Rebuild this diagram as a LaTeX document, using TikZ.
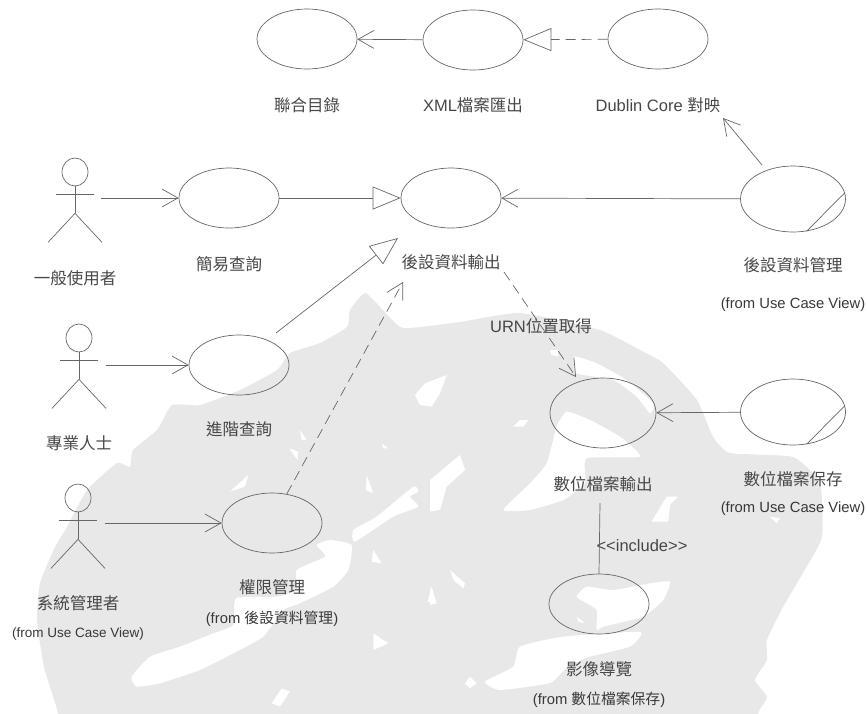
\documentclass[tikz,border=0pt]{standalone}
\usepackage{fontspec}
\setmainfont{Liberation Sans}
\newfontfamily\cjk{Noto Sans CJK TC}
\usetikzlibrary{shapes.geometric,arrows.meta,calc}
\newcommand{\zh}[1]{{\cjk #1}}
% stick figure: name, x, y of the head
\newcommand{\actor}[3]{
    \node (#1) [head] at (#2,#3) {};
    \draw [stick] (#1.south) -- ++(0,27) coordinate (#1hip);
    \draw [stick] ($(#1)+(-19,22)$) -- ++(38,0);
    \draw [stick] ($(#1hip)+(-27,29)$) -- (#1hip) -- ++(27,29);
}

\begin{document}
\begin{tikzpicture}[x=1pt,y=-1pt,node distance=65pt]
    \tikzstyle{usecase} = [ellipse, minimum width=100pt, minimum height=60pt, inner sep=0pt, draw=black!60, line width=0.7pt]
    \tikzstyle{head} = [ellipse, minimum width=26pt, minimum height=28pt, inner sep=0pt, draw=black!60, line width=0.7pt]
    \tikzstyle{stick} = [draw=black!60, line width=0.7pt]
    \tikzstyle{lbl} = [text=black!72, inner sep=0pt, font=\fontsize{16.5}{18}\selectfont]
    \tikzstyle{lblfrom} = [text=black!78, inner sep=0pt, font=\fontsize{14.8}{17}\selectfont]
    \tikzstyle{arrow} = [draw=black!60, line width=0.7pt, -{Straight Barb[length=16pt,width=18pt]}]
    \tikzstyle{dasharrow} = [arrow, dash pattern=on 10pt off 6pt]
    \tikzstyle{gen} = [draw=black!60, line width=0.7pt, -{Triangle[open,length=28pt,width=23pt]}]
    \tikzstyle{dashgen} = [gen, dash pattern=on 10pt off 6pt]
    \tikzstyle{wmark} = [fill=black!9, draw=none]
    \tikzstyle{wgap} = [fill=white, draw=none]

    \useasboundingbox (0,0) rectangle (867,713);

    % Watermark
    \fill [wmark] plot [smooth cycle, tension=0.3] coordinates {(58,713) (44,667) (37,620) (40,583) (55,547) (67,527) (87,490) (117,463) (130,467) (133,450) (157,430) (172,405) (200,405) (240,390) (277,370) (290,353) (320,343) (347,327) (350,310) (365,293) (383,310) (403,328) (460,322) (520,313) (600,330) (640,350) (663,363) (697,400) (713,437) (730,453) (793,457) (820,483) (822,537) (803,573) (783,607) (767,640) (767,660) (755,680) (767,697) (758,713) (758,735) (58,735)};
    \begin{scope}[x=0.3333pt,y=-0.3333pt,yshift=-300pt]
        \fill [wgap] plot [smooth cycle, tension=0.3] coordinates {(395,1130) (450,1070) (540,1040) (640,1000) (700,975) (708,895) (830,890) (890,870) (890,810) (975,770) (950,735) (990,720) (1055,735) (1045,810) (1000,860) (900,910) (850,930) (790,1010) (700,1060) (600,1110) (480,1150) (410,1160)};
        \fill [wgap] plot [smooth cycle, tension=0.3] coordinates {(1060,690) (1130,650) (1240,560) (1255,575) (1230,590) (1255,620) (1180,650) (1065,725)};
        \fill [wgap] (900,390) -- (920,420) -- (905,420) -- cycle;
        \fill [wgap] (868,445) -- (895,455) -- (892,480) -- cycle;
        \fill [wgap] (690,575) -- (745,525) -- (735,560) -- cycle;
        \fill [wgap] (1100,525) -- (1120,580) -- (1098,570) -- cycle;
        \fill [wgap] (1145,430) -- (1165,445) -- (1150,445) -- cycle;
        \fill [wgap] (1120,750) -- (1145,790) -- (1115,785) -- cycle;
        \fill [wgap] (1295,860) -- (1310,910) -- (1283,905) -- cycle;
        \fill [wgap] (1120,1000) -- (1165,1030) -- (1120,1050) -- cycle;
        \fill [wgap] (815,1210) -- (845,1165) -- (870,1175) -- (840,1220) -- cycle;
        \fill [wgap] (1245,285) -- (1275,250) -- (1340,225) -- (1320,280) -- (1295,320) -- (1260,315) -- cycle;
    \end{scope}
    \begin{scope}[x=0.3333pt,y=-0.3333pt,xshift=430pt,yshift=-340pt]
        \fill [wgap] plot [smooth cycle, tension=0.3] coordinates {(220,510) (300,430) (350,370) (380,260) (410,215) (480,240) (570,290) (630,350) (470,355) (465,430) (400,480) (300,510)};
        \fill [wgap] plot [smooth cycle, tension=0.3] coordinates {(435,50) (500,70) (590,120) (670,190) (660,220) (620,170) (550,120) (440,100)};
        \fill [wgap] (360,30) -- (385,30) -- (385,50) -- (365,45) -- cycle;
        \fill [wgap] (250,260) -- (270,240) -- (295,240) -- (280,260) -- cycle;
        \fill [wgap] (0,420) -- (90,345) -- (105,390) -- (50,440) -- (30,510) -- (0,515) -- cycle;
        \fill [wgap] (665,545) -- (710,470) -- (745,470) -- (720,495) -- (715,545) -- cycle;
        \fill [wgap] (1020,530) -- (1050,535) -- (1040,550) -- cycle;
        \fill [wgap] (60,690) -- (105,730) -- (100,745) -- (70,720) -- cycle;
        \fill [wgap] (0,745) -- (20,790) -- (0,795) -- cycle;
        \fill [wgap] plot [smooth cycle, tension=0.3] coordinates {(440,770) (470,740) (550,750) (660,730) (720,725) (700,780) (640,830) (520,860) (500,870) (500,810) (470,790)};
        \fill [wgap] (440,830) -- (465,850) -- (445,845) -- cycle;
        \fill [wgap] plot [smooth cycle, tension=0.3] coordinates {(165,1025) (250,980) (270,920) (400,890) (630,876) (600,920) (480,950) (411,981) (360,1029) (210,1050)};
        \fill [wgap] (105,1030) -- (120,1010) -- (140,1030) -- (120,1045) -- cycle;
    \end{scope}

    % Use cases
    \node (union) [usecase] at (307,39) {};
    \node (xml) [usecase] at (473,40) {};
    \node (dublin) [usecase] at (658,39) {};
    \node (simple) [usecase] at (229,198) {};
    \node (output) [usecase] at (451,198) {};
    \node (manage) [usecase, minimum width=105pt, minimum height=66pt] at (793,199) {};
    \node (advanced) [usecase] at (239,365) {};
    \node (perm) [usecase] at (272,523) {};
    \node (fileout) [usecase, minimum width=106pt, minimum height=70pt] at (603,413) {};
    \node (filesave) [usecase, minimum width=105pt, minimum height=66pt] at (793,412) {};
    \node (imageview) [usecase] at (599,604) {};

    % Actors
    \actor{user}{75}{172}
    \actor{expert}{79}{338}
    \actor{admin}{78}{498}

    % Labels
    \node (lunion) [lbl, below of=union, node distance=66pt] {\zh{聯合目錄}};
    \node (lxml) [lbl, below of=xml] {XML\zh{檔案匯出}};
    \node (ldublin) [lbl, below of=dublin, node distance=66pt] {Dublin Core \zh{對映}};
    \node (lsimple) [lbl, below of=simple, node distance=66pt] {\zh{簡易查詢}};
    \node (loutput) [lbl, below of=output, node distance=64pt] {\zh{後設資料輸出}};
    \node (lmanage) [lbl, below of=manage, node distance=66pt] {\zh{後設資料管理}};
    \node (fmanage) [lblfrom, below of=lmanage, node distance=40pt] {(from Use Case View)};
    \node (ladvanced) [lbl, below of=advanced, node distance=64pt] {\zh{進階查詢}};
    \node (lperm) [lbl, below of=perm, node distance=64pt] {\zh{權限管理}};
    \node (fperm) [lblfrom, below of=lperm, node distance=32pt] {(from \zh{後設資料管理})};
    \node (lfileout) [lbl, below of=fileout, node distance=71pt] {\zh{數位檔案輸出}};
    \node (lfilesave) [lbl, below of=filesave, node distance=67pt] {\zh{數位檔案保存}};
    \node (ffilesave) [lblfrom, below of=lfilesave, node distance=30pt] {(from Use Case View)};
    \node (limage) [lbl, below of=imageview] {\zh{影像導覽}};
    \node (fimage) [lblfrom, below of=limage, node distance=31pt] {(from \zh{數位檔案保存})};
    \node (luser) [lbl, below of=user, node distance=106pt] {\zh{一般使用者}};
    \node (lexpert) [lbl, below of=expert, node distance=105pt] {\zh{專業人士}};
    \node (ladmin) [lbl, below of=admin, node distance=105pt] {\zh{系統管理者}};
    \node (fadmin) [lblfrom, below of=ladmin, font=\fontsize{13.5}{16}\selectfont, node distance=31pt] {(from Use Case View)};
    \node (urn) [lbl] at (541,326) {URN\zh{位置取得}};
    \node (incl) [lbl] at (642,546) {<{}<include>{}>};

    % Free ends
    \coordinate (auser) at (101,198);
    \coordinate (aexpert) at (105.5,365);
    \coordinate (aadmin) at (105,523);
    \coordinate (advfrom) at (276,333);
    \coordinate (advto) at (398,238);
    \coordinate (permto) at (403,282);
    \coordinate (urnfrom) at (504,272);
    \coordinate (urnto) at (576,377);
    \coordinate (manfrom) at (762,165);
    \coordinate (manto) at (723,118);
    \coordinate (inclfrom) at (600,503);

    % Arrows
    \draw [arrow] (auser) -- (simple);
    \draw [arrow] (aexpert) -- (advanced);
    \draw [arrow] (aadmin) -- (perm);
    \draw [arrow] (xml) -- (union);
    \draw [dashgen] (dublin) -- (xml);
    \draw [gen] (simple) -- (output);
    \draw [gen] (advfrom) -- (advto);
    \draw [dasharrow] (perm.63) -- (permto);
    \draw [arrow] (manage) -- (output);
    \draw [arrow] (manfrom) -- (manto);
    \draw [dasharrow] (urnfrom) -- (urnto);
    \draw [arrow] (filesave) -- (fileout);
    \draw [stick] (inclfrom) -- (imageview.north);

    % Chords
    \draw [stick] (manage.7) -- (manage.-67);
    \draw [stick] (filesave.7) -- (filesave.-67);
\end{tikzpicture}
\end{document}
